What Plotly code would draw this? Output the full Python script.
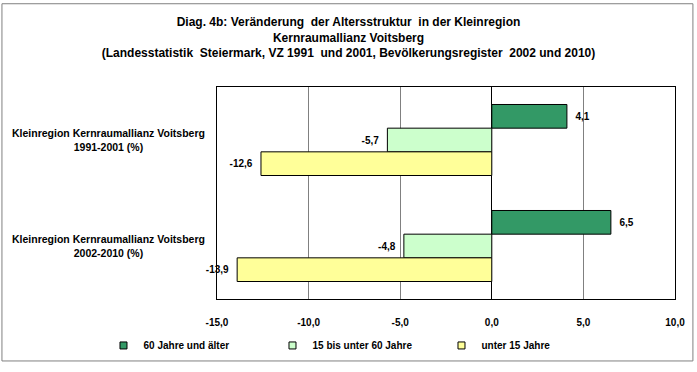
import plotly.graph_objects as go

categories = ["Kleinregion Kernraumallianz Voitsberg<br>1991-2001 (%)",
              "Kleinregion Kernraumallianz Voitsberg<br>2002-2010 (%)"]
series_names = ["60 Jahre und älter", "15 bis unter 60 Jahre", "unter 15 Jahre"]
values_60plus = [4.1, 6.5]
values_15_60 = [-5.7, -4.8]
values_under15 = [-12.6, -13.9]
x_ticks = [-15, -10, -5, 0, 5, 10]
x_ticktext = [f"{v:.1f}".replace(".", ",") for v in x_ticks]

colors = ["#339966", "#CCFFCC", "#FFFF99"]
FONT = "Liberation Sans, Arial, sans-serif"
NB = "\u00a0"

W, H = 697, 372
L, R, T, B = 217, 20, 87, 66
pw = W - L - R
ph = H - T - B


def label(v):
    s = f"{v:.1f}".replace(".", ",")
    return (NB * 2 + s) if v >= 0 else (s + NB * 2)


fig = go.Figure()
for name, vals, col in zip(series_names, [values_60plus, values_15_60, values_under15], colors):
    fig.add_trace(go.Bar(
        y=categories, x=vals, name=name, orientation="h",
        marker=dict(color=col, line=dict(color="black", width=1)),
        text=[label(v) for v in vals], textposition="outside",
        textfont=dict(family=FONT, size=10, color="black", weight="bold"),
        cliponaxis=False, showlegend=False, hoverinfo="skip",
    ))
# legend entries (small square markers like the original)
for name, col in zip(series_names, colors):
    fig.add_trace(go.Scatter(
        x=[None], y=[None], mode="markers", name=name,
        marker=dict(symbol="square", size=7, color=col, line=dict(color="black", width=1)),
        showlegend=True,
    ))


def px_x(p):
    return (p - L) / pw


def px_y(p):
    return (H - B - p) / ph


annotations = [
    dict(text=c, x=px_x(108), xref="paper", y=c, yref="y", showarrow=False,
         align="center", xanchor="center", yanchor="middle",
         font=dict(family=FONT, size=10.5, color="black", weight="bold"))
    for c in categories
]

shapes = [dict(type="rect", xref="paper", yref="paper",
               x0=px_x(1), x1=px_x(695), y0=px_y(370), y1=px_y(1),
               line=dict(color="#808080", width=1), fillcolor="rgba(0,0,0,0)", layer="below")]

fig.update_layout(
    width=W, height=H,
    margin=dict(l=L, r=R, t=T, b=B),
    paper_bgcolor="white", plot_bgcolor="white",
    separators=",.",
    barmode="group", bargap=0.33, bargroupgap=0,
    title=dict(
        text=f"Diag. 4b: Veränderung {NB}der Altersstruktur {NB}in der Kleinregion<br>"
             "Kernraumallianz Voitsberg<br>"
             f"(Landesstatistik {NB}Steiermark, VZ 1991 {NB}und 2001, Bevölkerungsregister {NB}2002 und 2010)",
        x=0.5, xanchor="center", y=1 - 26 / H, yanchor="top", yref="container",
        font=dict(family=FONT, size=12, color="black", weight="bold"),
    ),
    xaxis=dict(range=[-15, 10], tickvals=x_ticks, ticktext=x_ticktext,
               showgrid=True, gridcolor="#808080", gridwidth=1,
               zeroline=True, zerolinecolor="black", zerolinewidth=1,
               showline=True, linecolor="black", linewidth=1, mirror=True,
               ticks="outside", ticklen=14, tickcolor="rgba(0,0,0,0)",
               tickfont=dict(family=FONT, size=10, color="black", weight="bold")),
    yaxis=dict(autorange="reversed", showticklabels=False, showgrid=False,
               showline=True, linecolor="black", linewidth=1, mirror=True, ticks=""),
    legend=dict(orientation="h", x=px_x(103), xanchor="left", y=px_y(354), yanchor="middle",
                entrywidth=124, entrywidthmode="pixels", itemwidth=30,
                font=dict(family=FONT, size=10, color="black", weight="bold"),
                traceorder="normal"),
    annotations=annotations,
    shapes=shapes,
    showlegend=True,
    hovermode=False,
)

fig.write_html("out.html", config={"displayModeBar": False},
               post_script="document.body.style.margin='0';")
